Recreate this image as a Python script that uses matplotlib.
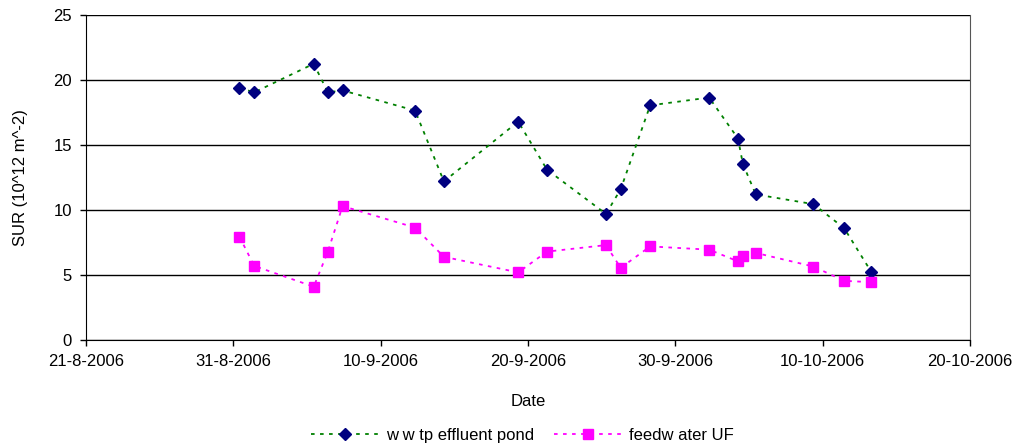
import matplotlib
matplotlib.use("Agg")
import matplotlib.pyplot as plt
import matplotlib.dates as mdates
import pandas as pd

# sampling dates (fractional days)
dates = pd.to_datetime([
    "2006-08-31 10:00", "2006-09-01 10:00", "2006-09-05 11:00", "2006-09-06 10:00",
    "2006-09-07 10:00", "2006-09-12 08:00", "2006-09-14 07:00", "2006-09-19 08:00",
    "2006-09-21 07:00", "2006-09-25 07:00", "2006-09-26 07:00", "2006-09-28 07:00",
    "2006-10-02 07:00", "2006-10-04 06:00", "2006-10-04 14:00", "2006-10-05 11:00",
    "2006-10-09 09:00", "2006-10-11 11:00", "2006-10-13 07:00",
])
wwtp = [19.4, 19.05, 21.25, 19.05, 19.2, 17.65, 12.2, 16.8, 13.1, 9.7,
        11.6, 18.05, 18.65, 15.5, 13.55, 11.2, 10.45, 8.6, 5.25]
feed = [7.95, 5.7, 4.1, 6.8, 10.3, 8.65, 6.4, 5.2, 6.8, 7.3,
        5.55, 7.2, 6.95, 6.05, 6.45, 6.7, 5.65, 4.55, 4.45]

xticks = pd.date_range("2006-08-21", "2006-10-20", freq="10D")
yticks = [0, 5, 10, 15, 20, 25]

plt.rcParams["font.family"] = ["Liberation Sans", "DejaVu Sans"]
plt.rcParams["font.size"] = 12

fig = plt.figure(figsize=(10.15, 4.43), dpi=100)
ax = fig.add_axes([0.0847, 0.2325, 0.8710, 0.7336])

ax.plot(dates, wwtp, color="#008000", linestyle=(0, (2, 3)), linewidth=1.3,
        marker="D", markersize=6.5, markerfacecolor="#000080",
        markeredgecolor="#000080", label="w w tp effluent pond")
ax.plot(dates, feed, color="#FF00FF", linestyle=(0, (2, 3)), linewidth=1.3,
        marker="s", markersize=7, markerfacecolor="#FF00FF",
        markeredgecolor="#FF00FF", label="feedw ater UF")

ax.set_xlim(xticks[0], xticks[-1])
ax.set_ylim(0, 25)
ax.set_xticks(xticks)
ax.xaxis.set_major_formatter(mdates.DateFormatter("%-d-%-m-%Y"))
ax.set_yticks(yticks)
ax.yaxis.grid(True, color="black", linewidth=1)
ax.set_axisbelow(True)
ax.tick_params(direction="out", length=4, width=1, pad=6)

for s in ["left", "bottom"]:
    ax.spines[s].set_color("black")
ax.spines["right"].set_color("#555555")
ax.spines["top"].set_visible(False)

ax.set_xlabel("Date", labelpad=18)
ax.set_ylabel("SUR (10^12 m^-2)", labelpad=18)

fig.legend(loc="lower center", bbox_to_anchor=(0.515, -0.033), ncol=2,
           frameon=False, handlelength=4.0, columnspacing=1.2, handletextpad=0.5)

fig.savefig("out.png", dpi=100)
